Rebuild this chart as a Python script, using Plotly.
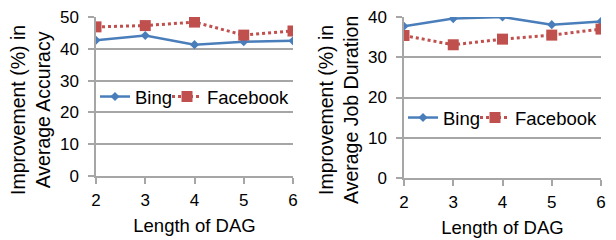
import plotly.graph_objects as go

dag_length = [2, 3, 4, 5, 6]
acc_bing = [42.7, 44.2, 41.3, 42.2, 42.5]
acc_facebook = [46.9, 47.3, 48.4, 44.3, 45.6]
dur_bing = [37.7, 39.6, 40.0, 38.1, 38.9]
dur_facebook = [35.4, 33.1, 34.5, 35.5, 37.0]

BLUE = "#4A7EBB"
RED = "#C0504D"
GRID = "#A6A6A6"
FONT = "Liberation Sans, Arial, sans-serif"

fig = go.Figure()

def add_pair(xa, ya, bing, fb, leg_b, leg_f):
    fig.add_trace(go.Scatter(x=dag_length, y=bing, name="Bing", mode="lines+markers",
                             line=dict(color=BLUE, width=2.5),
                             marker=dict(symbol="diamond", size=7, color=BLUE),
                             xaxis=xa, yaxis=ya, legend=leg_b))
    fig.add_trace(go.Scatter(x=dag_length, y=fb, name="Facebook", mode="lines+markers",
                             line=dict(color=RED, width=3, dash="dot"),
                             marker=dict(symbol="square", size=11, color=RED),
                             xaxis=xa, yaxis=ya, legend=leg_f))

add_pair("x", "y", acc_bing, acc_facebook, "legend", "legend2")
add_pair("x2", "y2", dur_bing, dur_facebook, "legend3", "legend4")

axis_common = dict(showline=True, linecolor=GRID, linewidth=1.5, ticks="outside",
                   ticklen=6, tickcolor=GRID, tickwidth=1.5, automargin=False,
                   tickfont=dict(family=FONT, size=17, color="#000000"))
title_font = dict(family=FONT, size=18.5, color="#000000")

def leg(xpx, ypx):
    return dict(orientation="h", x=xpx/616, y=(240-ypx)/240, xanchor="left", yanchor="middle",
                bgcolor="rgba(0,0,0,0)", font=dict(family=FONT, size=18.5))

fig.update_layout(
    width=616, height=240,
    margin=dict(l=0, r=0, t=0, b=0, autoexpand=False),
    plot_bgcolor="white", paper_bgcolor="white",
    font=dict(family=FONT, color="#000000"),
    xaxis=dict(domain=[96/616, 293/616], range=[2, 6], tickvals=dag_length,
               showgrid=False, zeroline=False, anchor="y", ticklabelstandoff=2, **axis_common,
               title=dict(text="Length of DAG", font=title_font, standoff=10)),
    yaxis=dict(domain=[(240-176)/240, (240-17)/240], range=[0, 50], dtick=10,
               showgrid=True, gridcolor=GRID, gridwidth=1.5, zeroline=False,
               anchor="x", ticklabelstandoff=6, **axis_common),
    xaxis2=dict(domain=[404/616, 601/616], range=[2, 6], tickvals=dag_length,
                showgrid=False, zeroline=False, anchor="y2", ticklabelstandoff=2, **axis_common,
                title=dict(text="Length of DAG", font=title_font, standoff=10)),
    yaxis2=dict(domain=[(240-178)/240, (240-17)/240], range=[0, 40], dtick=10,
                showgrid=True, gridcolor=GRID, gridwidth=1.5, zeroline=False,
                anchor="x2", ticklabelstandoff=6, **axis_common),
    legend=leg(95, 97),
    legend2=leg(167, 97),
    legend3=leg(95 + 308, 118),
    legend4=leg(167 + 308, 118),
    showlegend=True,
)

fig.add_annotation(text="Improvement (%) in<br>Average Accuracy", textangle=-90,
                   x=30/616, y=(240-110)/240, xref="paper", yref="paper", showarrow=False,
                   xanchor="center", yanchor="middle",
                   font=dict(family=FONT, size=19.5))
fig.add_annotation(text="Improvement (%) in<br>Average Job Duration", textangle=-90,
                   x=(308+30)/616, y=(240-110)/240, xref="paper", yref="paper", showarrow=False,
                   xanchor="center", yanchor="middle",
                   font=dict(family=FONT, size=19.5))

fig.write_html("out.html", config={"displayModeBar": False},
               post_script="document.body.style.margin='0';")
